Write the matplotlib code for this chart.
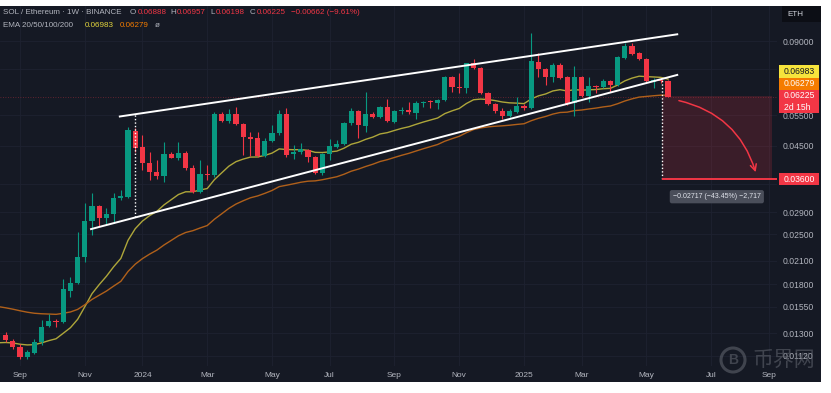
import numpy as np
import pandas as pd
import matplotlib
matplotlib.use("Agg")
import matplotlib.pyplot as plt
import matplotlib.dates as mdates
from matplotlib.patches import Rectangle, FancyArrowPatch, Circle
from matplotlib.transforms import IdentityTransform
from matplotlib.ticker import FixedLocator, NullFormatter

plt.rcParams['font.family'] = ['Liberation Sans', 'DejaVu Sans']

# weekly SOL/ETH candles, first week starts 2023-08-21
first_week = "2023-08-21"
opens = [
    0.01285, 0.01236, 0.01188, 0.01113, 0.01142, 0.01226, 0.01363, 0.01409, 0.01399, 0.01719,
    0.01813, 0.02153, 0.02733, 0.03018, 0.02787, 0.02862, 0.03182, 0.03203, 0.04969, 0.04461,
    0.04012, 0.03780, 0.03681, 0.04259, 0.04156, 0.04296, 0.03881, 0.03311, 0.03730, 0.03705,
    0.05550, 0.05309, 0.05550, 0.05195, 0.04775, 0.04735, 0.04203, 0.04641, 0.04894, 0.05550,
    0.04259, 0.04316, 0.04373, 0.04175, 0.03755, 0.04259, 0.04461, 0.04550, 0.05229, 0.05661,
    0.05126, 0.05550, 0.05441, 0.05813, 0.05264, 0.05661, 0.05699, 0.05587, 0.05969, 0.06049,
    0.05969, 0.06089, 0.07091, 0.06658, 0.06593, 0.07780, 0.07527, 0.06378, 0.05930, 0.05661,
    0.05477, 0.05624, 0.05852, 0.05775, 0.07832, 0.07477, 0.07091, 0.07678, 0.07091, 0.05969,
    0.07091, 0.06253, 0.06680, 0.06636, 0.06905, 0.06725, 0.08042, 0.08707, 0.08312, 0.07989,
    0.06860, 0.06951, 0.06888]
highs = [
    0.01311, 0.01251, 0.01210, 0.01163, 0.01251, 0.01418, 0.01476, 0.01428, 0.01861, 0.01886,
    0.02540, 0.03078, 0.03289, 0.03038, 0.02978, 0.03289, 0.03355, 0.05093, 0.05059, 0.04830,
    0.04316, 0.04092, 0.04611, 0.04316, 0.04611, 0.04344, 0.03959, 0.04092, 0.03959, 0.05624,
    0.05624, 0.05737, 0.05813, 0.05229, 0.04926, 0.04926, 0.04735, 0.05160, 0.05699, 0.05775,
    0.04520, 0.04580, 0.04402, 0.04203, 0.04287, 0.04703, 0.04672, 0.05264, 0.05775, 0.05699,
    0.06420, 0.05624, 0.05852, 0.06130, 0.05699, 0.05813, 0.06009, 0.06049, 0.06049, 0.06089,
    0.06130, 0.07138, 0.07138, 0.07281, 0.07780, 0.07989, 0.07577, 0.06420, 0.05969, 0.05775,
    0.05737, 0.06211, 0.05930, 0.09489, 0.08312, 0.07527, 0.07780, 0.07780, 0.07138, 0.07627,
    0.07138, 0.07091, 0.06725, 0.06998, 0.06951, 0.08149, 0.08882, 0.08882, 0.08368, 0.08042,
    0.07044, 0.07021, 0.06957]
lows = [
    0.01226, 0.01170, 0.01096, 0.01096, 0.01136, 0.01202, 0.01354, 0.01354, 0.01395, 0.01652,
    0.01801, 0.02082, 0.02490, 0.02644, 0.02661, 0.02697, 0.03140, 0.03182, 0.04316, 0.03830,
    0.03585, 0.03609, 0.03538, 0.04134, 0.04092, 0.03830, 0.03289, 0.03289, 0.03585, 0.03657,
    0.05264, 0.05229, 0.05160, 0.04231, 0.04203, 0.04175, 0.04175, 0.04611, 0.04830, 0.04175,
    0.04120, 0.04259, 0.04038, 0.03730, 0.03705, 0.04092, 0.04431, 0.04520, 0.05160, 0.04735,
    0.04926, 0.05405, 0.05405, 0.05264, 0.05229, 0.05550, 0.05550, 0.05370, 0.05813, 0.05775,
    0.05737, 0.06049, 0.06420, 0.06378, 0.06378, 0.07477, 0.06336, 0.05891, 0.05587, 0.05370,
    0.05441, 0.05587, 0.05699, 0.05737, 0.07091, 0.06725, 0.06860, 0.06998, 0.05891, 0.05477,
    0.06211, 0.06009, 0.06378, 0.06593, 0.06420, 0.06680, 0.07989, 0.08203, 0.07936, 0.06860,
    0.06593, 0.06837, 0.06198]
closes = [
    0.01242, 0.01183, 0.01113, 0.01148, 0.01226, 0.01357, 0.01409, 0.01399, 0.01742, 0.01813,
    0.02153, 0.02733, 0.03018, 0.02787, 0.02862, 0.03182, 0.03224, 0.04992, 0.04422, 0.04012,
    0.03780, 0.03681, 0.04259, 0.04156, 0.04296, 0.03881, 0.03311, 0.03730, 0.03705, 0.05550,
    0.05309, 0.05550, 0.05195, 0.04775, 0.04694, 0.04203, 0.04641, 0.04894, 0.05550, 0.04231,
    0.04316, 0.04402, 0.04175, 0.03755, 0.04259, 0.04490, 0.04550, 0.05229, 0.05661, 0.05160,
    0.05550, 0.05441, 0.05813, 0.05299, 0.05661, 0.05699, 0.05624, 0.05969, 0.06009, 0.06009,
    0.06089, 0.07090, 0.06636, 0.06614, 0.07780, 0.07527, 0.06378, 0.05930, 0.05661, 0.05477,
    0.05661, 0.05852, 0.05775, 0.07884, 0.07477, 0.07091, 0.07678, 0.07044, 0.05930, 0.07091,
    0.06253, 0.06680, 0.06636, 0.06905, 0.06725, 0.08095, 0.08707, 0.08257, 0.07989, 0.06905,
    0.06951, 0.06888, 0.06225]

# EMA starting levels read at the left edge of the chart
ema20_seed = 0.0122
ema50_seed = 0.0155

# drawings on the chart
upper_dates = ["2023-12-10", "2025-06-04"]
upper_prices = [0.0546, 0.0941]
lower_dates = ["2023-11-12", "2025-06-04"]
lower_prices = [0.0259, 0.0719]
flag_date, flag_lo, flag_hi = "2023-12-25", 0.0280, 0.0555
break_date, break_hi = "2025-05-20", 0.0700
target = 0.036
measure_top = 0.0625
measure_end = "2025-09-04"
arrow_from = ("2025-06-03", 0.0609)
arrow_to = ("2025-08-20", 0.0371)
measure_text = "\u22120.02717 (\u221243.45%) \u22122,717"

yticks = [0.09, 0.055, 0.045, 0.029, 0.025, 0.021, 0.018, 0.0155, 0.013, 0.0112]
hidden_yticks = [0.075, 0.035]  # grid levels whose labels sit under the price tags
xtick_dates = ["2023-09-04", "2023-11-06", "2024-01-01", "2024-03-04", "2024-05-06", "2024-07-01",
               "2024-09-02", "2024-11-04", "2025-01-06", "2025-03-03", "2025-05-05", "2025-07-07",
               "2025-09-01"]
xtick_labels = ["Sep", "Nov", "2024", "Mar", "May", "Jul", "Sep", "Nov", "2025", "Mar", "May", "Jul", "Sep"]

W, H = 831, 393
BG = '#151924'
GRID = '#1e2230'
TXT = '#b2b5be'
GREEN = '#089981'
RED = '#f23645'
EMA20_C = '#aea63a'
EMA50_C = '#b0601a'


def fx(x):
    return x / W


def fy(y):
    return 1 - y / H


def dn(d):
    return mdates.date2num(pd.Timestamp(d))


def ema(vals, span, seed):
    a = 2 / (span + 1)
    out, prev = [], seed
    for v in vals:
        prev = a * v + (1 - a) * prev
        out.append(prev)
    return out


fig = plt.figure(figsize=(W / 100, H / 100), dpi=100, facecolor='white')
fig.add_artist(Rectangle((0, fy(382)), fx(821), (382 - 6) / H, transform=fig.transFigure,
                         fc=BG, ec='none', zorder=-5))
ax = fig.add_axes([0, fy(366), fx(777), (366 - 6) / H])
ax.set_facecolor(BG)
for s in ax.spines.values():
    s.set_visible(False)

x = mdates.date2num(pd.date_range(first_week, periods=len(closes), freq='7D'))
o, h, l, c = map(np.array, (opens, highs, lows, closes))
col = np.where(c >= o, GREEN, RED)

ax.set_yscale('log')
x0 = dn(first_week)
ax.set_xlim(x0 - 5.5, x0 + 750)
ax.set_ylim(0.01046, 0.1135)

# candles
ax.vlines(x, l, h, colors=col, lw=0.8, zorder=3)
bot = np.minimum(o, c)
top = np.maximum(np.maximum(o, c), bot * 1.006)
ax.bar(x, top - bot, bottom=bot, width=5.0, color=col, lw=0, zorder=4)

# EMA 20 / 50
xe = np.concatenate([[x[0] - 7], x])
ax.plot(xe, [ema20_seed] + ema(closes, 20, ema20_seed), color=EMA20_C, lw=1.0, zorder=2.6)
ax.plot(xe, [ema50_seed] + ema(closes, 50, ema50_seed), color=EMA50_C, lw=1.0, zorder=2.6)

# channel
ax.plot([dn(d) for d in upper_dates], upper_prices, color='white', lw=1.4, zorder=5)
ax.plot([dn(d) for d in lower_dates], lower_prices, color='white', lw=1.4, zorder=5)
ax.vlines(dn(flag_date), flag_lo, flag_hi, colors='white', lw=1.0, linestyles=(0, (1, 1.5)), zorder=5)

# current price line
ax.axhline(c[-1], color=RED, lw=0.6, ls=(0, (1, 2)), alpha=0.45, zorder=2)

# breakdown projection
xb, xm = dn(break_date), dn(measure_end)
ax.add_patch(Rectangle((xb, target), xm - xb, measure_top - target, fc=RED, alpha=0.17, ec='none', zorder=1.5))
ax.vlines(xb, target, break_hi, colors='white', lw=1.0, linestyles=(0, (1, 1.5)), zorder=5)
ax.plot([xb, ax.get_xlim()[1]], [target, target], color=RED, lw=1.4, zorder=5, solid_capstyle='butt')
ax.add_patch(FancyArrowPatch((dn(arrow_from[0]), arrow_from[1]), (dn(arrow_to[0]), arrow_to[1]),
                             connectionstyle='arc3,rad=-0.3', arrowstyle='->', mutation_scale=11,
                             color=RED, lw=1.1, zorder=5))
ax.text((xb + xm) / 2, 0.0321, measure_text, ha='center', va='center', fontsize=5, color='#e0e3eb',
        zorder=6, bbox=dict(boxstyle='round,pad=0.45,rounding_size=0.3', fc='#4a4e5a', ec='none'))

# axes
ax.set_axisbelow(True)
ax.yaxis.tick_right()
ax.set_yticks(yticks)
ax.set_yticklabels([f"{v:.5f}" for v in yticks])
ax.yaxis.set_minor_locator(FixedLocator(hidden_yticks))
ax.yaxis.set_minor_formatter(NullFormatter())
ax.set_xticks([dn(d) for d in xtick_dates])
ax.set_xticklabels(xtick_labels)
ax.tick_params(axis='y', which='both', length=0, pad=4, labelsize=6.2, labelcolor=TXT)
ax.tick_params(axis='x', length=0, pad=4, labelsize=6, labelcolor=TXT)
ax.grid(True, which='both', color=GRID, lw=0.6)

# price tags on the scale


def tag(y0, y1, fc, lines, tc):
    fig.add_artist(Rectangle((fx(779), fy(y1)), fx(40), (y1 - y0) / H, transform=fig.transFigure,
                             fc=fc, ec='none', zorder=6))
    n = len(lines)
    for i, t in enumerate(lines):
        yy = y0 + (y1 - y0) * (i + 0.5) / n
        fig.text(fx(784), fy(yy), t, fontsize=6.2, color=tc, va='center', ha='left', zorder=7)


tag(65.5, 78, '#f7e43c', ["0.06983"], '#131722')
tag(78, 90, '#f57c00', ["0.06279"], 'white')
tag(90, 113, RED, ["0.06225", "2d 15h"], 'white')
yt = H - ax.transData.transform((x0, target))[1]
tag(yt - 6, yt + 6, RED, ["0.03600"], 'white')

# symbol box top right
fig.add_artist(Rectangle((fx(782), fy(22)), fx(39), 16 / H, transform=fig.transFigure,
                         fc='#0c0e15', ec='none', zorder=6))
fig.text(fx(787), fy(14), "ETH", fontsize=5.8, color='#d1d4dc', va='center', zorder=7)

# header
hdr = [(3, 12.5, "SOL / Ethereum \u00b7 1W \u00b7 BINANCE", TXT),
       (130, 12.5, "O", TXT), (137.5, 12.5, "0.06888", RED),
       (170, 12.5, "H", TXT), (177, 12.5, "0.06957", RED),
       (210.5, 12.5, "L", TXT), (216, 12.5, "0.06198", RED),
       (250, 12.5, "C", TXT), (257, 12.5, "0.06225", RED),
       (291, 12.5, "\u22120.00662 (\u22129.61%)", RED),
       (3, 25.5, "EMA 20/50/100/200", TXT), (85, 25.5, "0.06983", '#e3d53c'),
       (119.5, 25.5, "0.06279", '#f57c00'), (155, 25.5, "\u00f8", TXT)]
for hx, hy, t, cc in hdr:
    fig.text(fx(hx), fy(hy), t, fontsize=5.8, color=cc, va='center', ha='left')

# watermark
fig.add_artist(Circle((733, H - 360), 12, transform=IdentityTransform(), fc='none',
                      ec='#5d616b', lw=2.2, alpha=0.6, zorder=8))
fig.text(fx(733), fy(360), "B", fontsize=10, fontweight='bold', color='#5d616b', alpha=0.6,
         ha='center', va='center', zorder=8)
fig.text(fx(752), fy(360), "币界网", fontsize=15, color='#5d616b', alpha=0.6, ha='left', va='center',
         family=['Noto Sans CJK SC', 'DejaVu Sans'], zorder=8)

fig.savefig("out.png", dpi=100, facecolor='white')
